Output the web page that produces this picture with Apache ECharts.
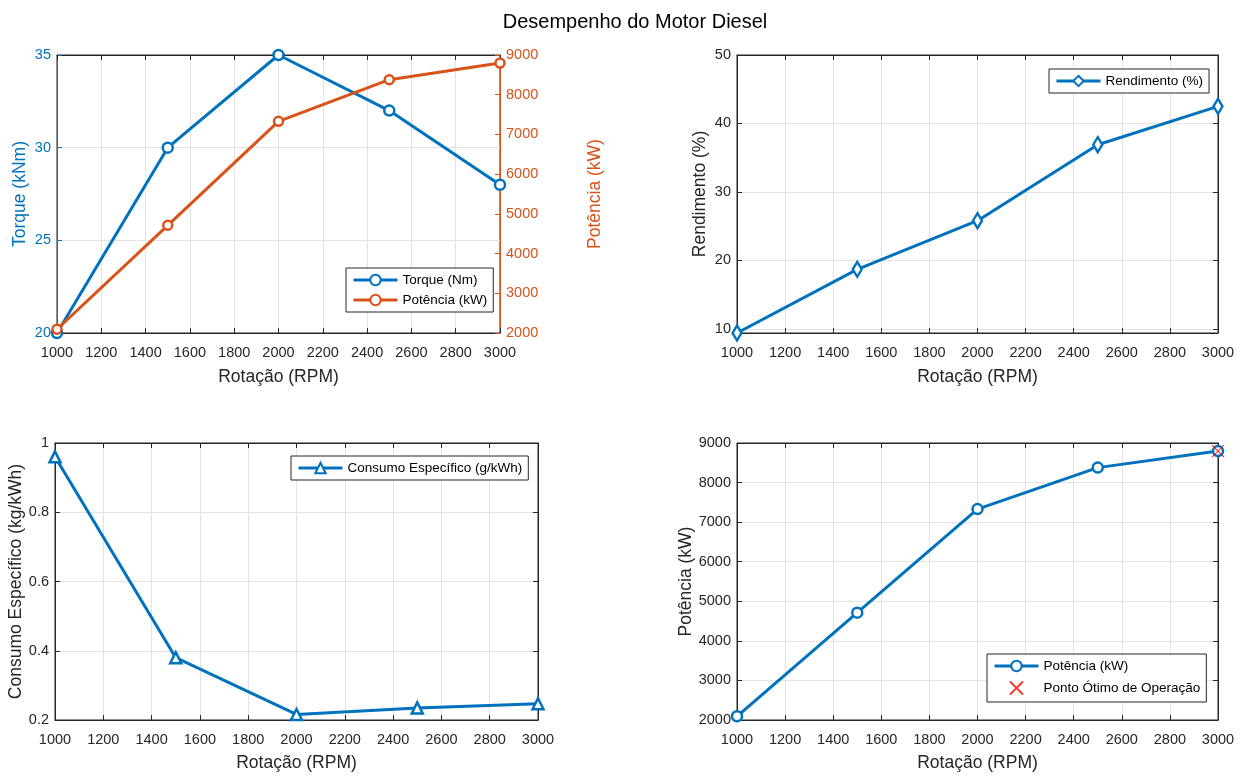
<!DOCTYPE html>
<html>
<head>
<meta charset="utf-8">
<title>Desempenho do Motor Diesel</title>
<script src="https://cdn.jsdelivr.net/npm/echarts@6/dist/echarts.min.js"></script>
<style>
  html, body { margin: 0; padding: 0; background: #fff; }
  #chart { width: 1245px; height: 778px; }
</style>
</head>
<body>
<div id="chart"></div>
<script>
// * Data
const rpm = [1000, 1500, 2000, 2500, 3000];
const torque = [20, 30, 35, 32, 28];              // kNm
const potencia = [2094, 4712, 7330, 8378, 8796];  // kW
const rendimento = [9.4, 18.7, 25.8, 36.9, 42.5]; // %
const consumo = [0.96, 0.38, 0.216, 0.235, 0.247]; // kg/kWh
const pontoOtimo = [3000, 8796];
const rendimentoTicks = [10, 20, 30, 40, 50];

// * MATLAB-like colors
const blue = "#0072BD";
const orange = "#D95319";
const axisColor = "#262626";
const gridColor = "#e3e3e3";
const font = "'Liberation Sans', Arial, sans-serif";
const tickFont = 14.5;
const nameFont = 17.5;

const pairs = (ys) => rpm.map((x, i) => [x, ys[i]]);
const plain = (v) => String(+v.toFixed(4));

// ? Plot boxes (pixels)
const grids = [
  { left: 57, top: 55, width: 443, height: 278 },
  { left: 737, top: 55, width: 481, height: 278 },
  { left: 55, top: 443, width: 483, height: 277 },
  { left: 737, top: 443, width: 481, height: 277 },
];

// * Bottom x axis with labels + mirrored top axis with only ticks
function xAxes(gridIndex, nameGap) {
  return [
    {
      type: "value", gridIndex, position: "bottom",
      min: 1000, max: 3000, interval: 200,
      name: "Rotação (RPM)", nameLocation: "middle", nameGap,
      nameTextStyle: { fontSize: nameFont, color: axisColor, fontFamily: font },
      axisLine: { lineStyle: { color: axisColor } },
      axisTick: { inside: true, length: 5, lineStyle: { color: axisColor } },
      axisLabel: { fontSize: tickFont, color: axisColor, fontFamily: font, margin: 12, formatter: plain },
      splitLine: { show: true, lineStyle: { color: gridColor } },
    },
    {
      type: "value", gridIndex, position: "top",
      min: 1000, max: 3000, interval: 200,
      axisLine: { lineStyle: { color: axisColor } },
      axisTick: { inside: true, length: 5, lineStyle: { color: axisColor } },
      axisLabel: { show: false },
      splitLine: { show: false },
    },
  ];
}

function yAxis(gridIndex, opts) {
  const color = opts.color || axisColor;
  const tick = { inside: true, length: 5, lineStyle: { color } };
  const label = { fontSize: tickFont, color, fontFamily: font, margin: 6, formatter: plain };
  if (opts.ticks) {
    tick.customValues = opts.ticks;
    label.customValues = opts.ticks;
  }
  return {
    type: "value", gridIndex, position: opts.position || "left",
    min: opts.min, max: opts.max, interval: opts.interval,
    name: opts.name, nameLocation: "middle", nameGap: opts.nameGap,
    nameTextStyle: { fontSize: nameFont, color, fontFamily: font },
    axisLine: { show: true, lineStyle: { color } },
    axisTick: tick,
    axisLabel: opts.noLabel ? { show: false } : label,
    splitLine: { show: !!opts.split, lineStyle: { color: gridColor } },
  };
}

const xAxis = [
  ...xAxes(0, 35),
  ...xAxes(1, 35),
  ...xAxes(2, 34),
  ...xAxes(3, 34),
];

const yAxisList = [
  // 0,1: grid 0 (torque left, potência right)
  yAxis(0, { min: 20, max: 35, interval: 5, name: "Torque (kNm)", nameGap: 28, color: blue, split: true }),
  yAxis(0, { min: 2000, max: 9000, interval: 1000, name: "Potência (kW)", nameGap: 86, color: orange, position: "right" }),
  // 2,3: grid 1 (rendimento)
  yAxis(1, { min: 9.4, max: 50, ticks: rendimentoTicks, name: "Rendimento (%)", nameGap: 28, split: true }),
  yAxis(1, { min: 9.4, max: 50, ticks: rendimentoTicks, position: "right", noLabel: true }),
  // 4,5: grid 2 (consumo)
  yAxis(2, { min: 0.2, max: 1, interval: 0.2, name: "Consumo Específico (kg/kWh)", nameGap: 25, split: true }),
  yAxis(2, { min: 0.2, max: 1, interval: 0.2, position: "right", noLabel: true }),
  // 6,7: grid 3 (potência)
  yAxis(3, { min: 2000, max: 9000, interval: 1000, name: "Potência (kW)", nameGap: 38, split: true }),
  yAxis(3, { min: 2000, max: 9000, interval: 1000, position: "right", noLabel: true }),
];

function lineSeries(name, data, xi, yi, color, symbol, size) {
  return {
    name, type: "line", xAxisIndex: xi, yAxisIndex: yi,
    data: pairs(data),
    symbol, symbolSize: size,
    showAllSymbol: true,
    lineStyle: { width: 3, color },
    itemStyle: { color: "#fff", borderColor: color, borderWidth: 2.5 },
    z: 3,
    animation: false,
  };
}

const legendBase = {
  orient: "vertical",
  backgroundColor: "#fff",
  borderColor: axisColor,
  borderWidth: 1,
  padding: [5, 6, 5, 6],
  itemGap: 6,
  itemWidth: 44,
  itemHeight: 13,
  lineStyle: { width: 3 },
  textStyle: { fontSize: 13.5, color: "#000", fontFamily: font },
  selectedMode: false,
};

const option = {
  backgroundColor: "#fff",
  animation: false,
  title: {
    text: "Desempenho do Motor Diesel",
    left: 630,
    textAlign: "center",
    top: 7,
    textStyle: { fontSize: 20, fontWeight: "normal", color: "#000", fontFamily: font },
  },
  grid: grids.map((g) => ({ ...g, show: true, borderColor: axisColor, borderWidth: 1, backgroundColor: "#fff" })),
  xAxis,
  yAxis: yAxisList,
  legend: [
    { ...legendBase, data: ["Torque (Nm)", "Potência (kW)"], left: 346, top: 268 },
    { ...legendBase, data: ["Rendimento (%)"], left: 1049, top: 69 },
    { ...legendBase, data: ["Consumo Específico (g/kWh)"], left: 291, top: 456 },
    {
      ...legendBase,
      data: ["Potência (kW) ", "Ponto Ótimo de Operação"],
      left: 987, top: 654,
      formatter: (name) => name.trim(),
    },
  ],
  series: [
    lineSeries("Torque (Nm)", torque, 0, 0, blue, "circle", 10),
    lineSeries("Potência (kW)", potencia, 0, 1, orange, "circle", 9),
    lineSeries("Rendimento (%)", rendimento, 2, 2, blue, "path://M5,0L10,8L5,16L0,8Z", [9, 15]),
    lineSeries("Consumo Específico (g/kWh)", consumo, 4, 4, blue, "triangle", 11),
    lineSeries("Potência (kW) ", potencia, 6, 6, blue, "circle", 10),
    {
      name: "Ponto Ótimo de Operação",
      type: "scatter",
      xAxisIndex: 6, yAxisIndex: 6,
      data: [pontoOtimo],
      symbol: "path://M0,0L10,10M10,0L0,10",
      symbolSize: 12,
      itemStyle: { color: "none", borderColor: "#FF0000", borderWidth: 1.2 },
      z: 5,
      animation: false,
    },
  ],
};

const myChart = echarts.init(document.getElementById("chart"), null, { renderer: "canvas" });
myChart.setOption(option);
</script>
</body>
</html>
